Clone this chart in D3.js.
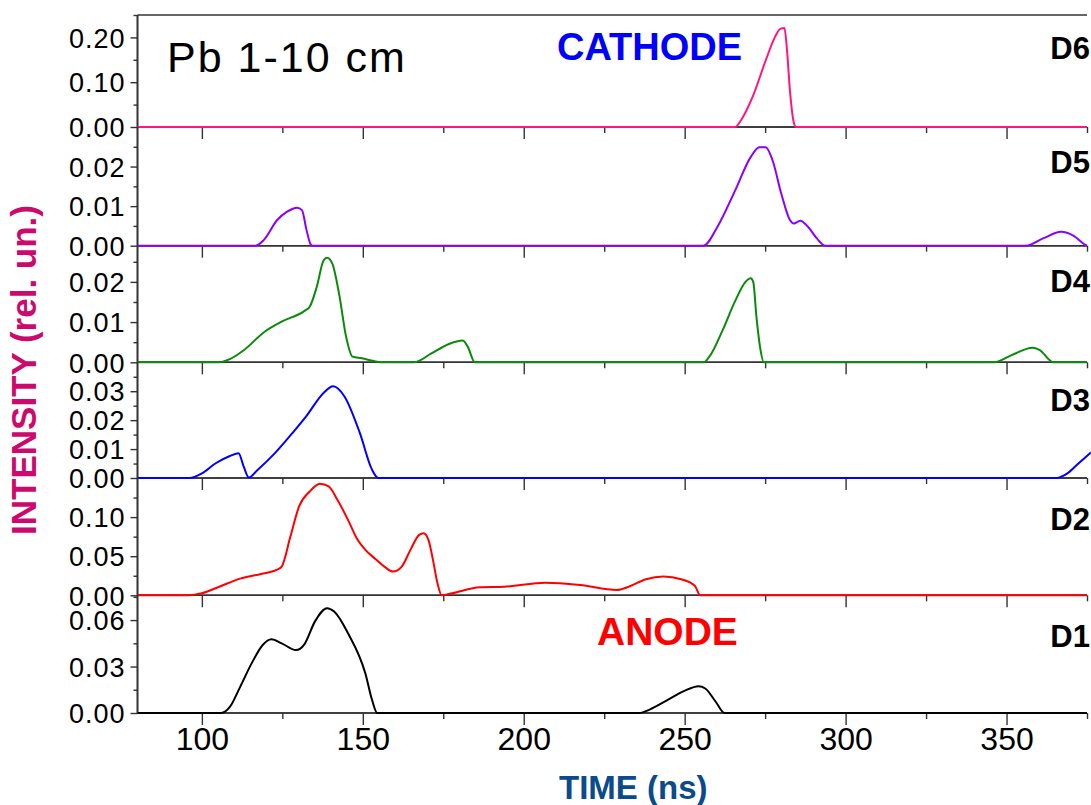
<!DOCTYPE html>
<html>
<head>
<meta charset="utf-8">
<script src="https://cdn.jsdelivr.net/npm/d3@7"></script>
<style>
  html, body { margin: 0; padding: 0; background: #fff; }
  svg { display: block; font-family: Arial, "Liberation Sans", sans-serif; }
</style>
</head>
<body>
<svg id="chart" width="1091" height="805"></svg>
<script>
// Detector names, top to bottom
const detectors = ["D6", "D5", "D4", "D3", "D2", "D1"];
const lineColors = ["#ff1480", "#8a00ff", "#0a8a0a", "#0000ff", "#ff0000", "#000000"];

// Time axis
const timeDomain = [80, 375];
const timeMajorTicks = [100, 150, 200, 250, 300, 350];
const timeMinorTicks = [125, 175, 225, 275, 325, 375];

// Intensity axis per detector
const intensityMax = [0.25, 0.03, 0.029, 0.04, 0.15, 0.076];
const intensityMajorTicks = [
  [0, 0.10, 0.20],
  [0, 0.01, 0.02],
  [0, 0.01, 0.02],
  [0, 0.01, 0.02, 0.03],
  [0, 0.05, 0.10],
  [0, 0.03, 0.06]
];
const intensityMinorTicks = [
  [0.05, 0.15, 0.25],
  [0.005, 0.015, 0.025],
  [0.005, 0.015, 0.025],
  [0.005, 0.015, 0.025, 0.035],
  [0.025, 0.075, 0.125],
  [0.015, 0.045, 0.075]
];

// Signals: [time (ns), intensity (rel. un.)]
const d6 = [[80,0],[265.7,0],[267.5,0.015],[271.1,0.067],[275.2,0.149],[278,0.2],[279.7,0.219],
  [281,0.221],[281.8,0.171],[282.7,0.082],[283.9,0.01],[284.6,0],[375,0]];
const d5 = [[80,0],[116.7,0],[119.2,0.0014],[123.4,0.0065],[126.5,0.0086],[129.6,0.0096],[131.1,0.009],
  [132.5,0.004],[133.7,0.0005],[134.2,0],[255.8,0],[260.2,0.0048],[265.7,0.014],[270.5,0.0224],
  [273.2,0.0249],[275.2,0.0249],[277.3,0.0216],[280,0.0132],[282.7,0.0065],[283.9,0.0056],
  [285.9,0.0063],[288.3,0.0048],[291,0.0019],[293.7,0],[356,0],[361.5,0.0019],[366.9,0.0035],
  [371,0.0024],[374.5,0.0002],[375,0]];
const d4 = [[80,0],[105.4,0],[108.7,0.0008],[113,0.003],[119.5,0.0076],[124.8,0.0101],[131.9,0.0128],
  [133.5,0.0138],[135.7,0.0188],[137.8,0.0253],[138.9,0.026],[140.5,0.0246],[142.7,0.0167],
  [144.8,0.0064],[146.8,0.0014],[149.7,0.001],[154,0.0002],[156,0],[165.9,0],[171.3,0.0022],
  [176.6,0.0045],[181,0.0054],[182.6,0.0039],[184.8,0],[255.9,0],[258,0.0018],[261.8,0.008],
  [265.6,0.0151],[268.9,0.02],[270.5,0.0209],[271.3,0.02],[272.3,0.0113],[273.4,0.0039],
  [274.6,0],[346.2,0],[351.6,0.0018],[358.1,0.0036],[360.2,0.0031],[364.6,0],[375,0]];
const d3s = [[80,0],[96.2,0],[100,0.0016],[104.3,0.0051],[108.7,0.0076],[111.4,0.0086],[113,0.0039],
  [114.6,0.0002],[117.3,0.0028],[122.7,0.0086],[128.1,0.0155],[132.4,0.0213],[137.8,0.0294],
  [140.8,0.0317],[144.3,0.0282],[149.1,0.0155],[152.9,0.0028],[154.8,0],[365.6,0],[368.9,0.0016],
  [372.5,0.0052],[376.2,0.0088]];
const d2 = [[80,0],[95.7,0],[100,0.0026],[105.4,0.011],[111.9,0.0213],[118.4,0.0273],[123.2,0.0324],
  [124.8,0.0367],[127.5,0.0751],[130.2,0.1136],[133.5,0.1328],[136.7,0.1427],[139.4,0.1392],
  [142.1,0.1222],[145.4,0.0965],[148.1,0.0731],[150.8,0.0581],[154,0.0462],[156.7,0.0367],
  [159.4,0.0303],[162.1,0.0367],[164.8,0.0581],[167.5,0.0773],[168.9,0.0795],[170.4,0.0709],
  [171.8,0.0453],[173.2,0.0154],[174.5,0],[177.8,0.0026],[186.4,0.0103],[193.9,0.011],
  [206.7,0.0162],[217.5,0.0132],[228.9,0.0068],[232.6,0.011],[238,0.0205],[243.4,0.0239],
  [248.9,0.0205],[253.2,0.0119],[254.8,0],[375,0]];
const d1 = [[80,0],[106,0],[108.7,0.0039],[111.9,0.0169],[115.7,0.033],[118.9,0.0439],[121.6,0.0476],
  [124.8,0.045],[129.2,0.0406],[131.9,0.0445],[135.1,0.059],[138.9,0.0677],[141.1,0.0655],
  [145.4,0.0515],[150.8,0.0255],[152.9,0.0082],[154.5,0],[235.9,0],[239.1,0.0022],[244.5,0.0082],
  [249.9,0.0143],[254.3,0.0173],[256.4,0.0158],[259.7,0.0071],[262.4,0],[375,0]];
const signals = [d6, d5, d4, d3s, d2, d1];

// Layout: stacked panels sharing one time axis
const plotLeft = 137.5, plotRight = 1087;
const panelEdges = [15, 127, 245.7, 362.3, 478, 595.3, 713];
const labelBaselines = [59, 173, 292, 410.7, 530, 647];
const axisColor = "#333";
const font = 'Arial, "Liberation Sans", sans-serif';

const svg = d3.select("#chart");
const x = d3.scaleLinear().domain(timeDomain).range([plotLeft, plotRight]);

// Top frame line and continuous left axis line
svg.append("line").attr("x1", plotLeft).attr("x2", plotRight)
  .attr("y1", panelEdges[0]).attr("y2", panelEdges[0])
  .attr("stroke", axisColor).attr("stroke-width", 1.6);

detectors.forEach((name, i) => {
  const top = panelEdges[i], bottom = panelEdges[i + 1];
  const y = d3.scaleLinear().domain([0, intensityMax[i]]).range([bottom, top]);
  const g = svg.append("g");

  // bottom time axis with outward ticks
  const isLast = i === detectors.length - 1;
  const xMajor = d3.axisBottom(x).tickValues(timeMajorTicks).tickSize(12)
    .tickFormat(isLast ? d3.format("d") : () => "");
  const xMinor = d3.axisBottom(x).tickValues(timeMinorTicks).tickSize(6).tickFormat(() => "");
  const gxMinor = g.append("g").attr("transform", `translate(0,${bottom})`).call(xMinor);
  const gx = g.append("g").attr("transform", `translate(0,${bottom})`).call(xMajor);
  [gx, gxMinor].forEach(a => {
    a.select(".domain").attr("stroke", axisColor).attr("stroke-width", 1.6)
      .attr("d", `M${plotLeft},0H${plotRight}`);
    a.selectAll(".tick line").attr("stroke", axisColor).attr("stroke-width", 1.4);
  });
  gx.selectAll(".tick text").attr("font-family", font).attr("font-size", 32)
    .attr("fill", "#000").attr("y", 14).attr("dy", "0.71em");

  // left intensity axis with outward ticks
  const yMajor = d3.axisLeft(y).tickValues(intensityMajorTicks[i]).tickSize(7)
    .tickPadding(5).tickFormat(d3.format(".2f"));
  const yMinor = d3.axisLeft(y).tickValues(intensityMinorTicks[i]).tickSize(4).tickFormat(() => "");
  const gyMinor = g.append("g").attr("transform", `translate(${plotLeft},0)`).call(yMinor);
  const gy = g.append("g").attr("transform", `translate(${plotLeft},0)`).call(yMajor);
  [gy, gyMinor].forEach(a => {
    a.select(".domain").attr("stroke", axisColor).attr("stroke-width", 1.6)
      .attr("d", `M0,${top}V${bottom}`);
    a.selectAll(".tick line").attr("stroke", axisColor).attr("stroke-width", 1.4);
  });
  gy.selectAll(".tick text").attr("font-family", font).attr("font-size", 27)
    .attr("letter-spacing", "1px").attr("fill", "#000").attr("dy", "0.36em");

  // signal trace
  const line = d3.line().x(d => x(d[0])).y(d => y(d[1])).curve(d3.curveMonotoneX);
  g.append("path").datum(signals[i]).attr("d", line)
    .attr("fill", "none").attr("stroke", lineColors[i]).attr("stroke-width", 2)
    .attr("stroke-linejoin", "round");

  // detector label
  g.append("text").attr("x", 1090).attr("y", labelBaselines[i]).attr("text-anchor", "end")
    .attr("font-family", font).attr("font-weight", "bold").attr("font-size", 31)
    .attr("fill", "#000").text(name);
});

// Annotations
svg.append("text").attr("x", 167).attr("y", 72).attr("font-family", font)
  .attr("font-size", 43).attr("letter-spacing", "2px").attr("fill", "#000").text("Pb 1-10 cm");
svg.append("text").attr("x", 557).attr("y", 60).attr("font-family", font)
  .attr("font-weight", "bold").attr("font-size", 38).attr("fill", "#0000ff").text("CATHODE");
svg.append("text").attr("x", 597).attr("y", 645).attr("font-family", font)
  .attr("font-weight", "bold").attr("font-size", 39).attr("fill", "#ff0000").text("ANODE");

// Axis titles
svg.append("text").attr("x", 559).attr("y", 799).attr("font-family", font)
  .attr("font-weight", "bold").attr("font-size", 33).attr("fill", "#0b4a8c").text("TIME (ns)");
svg.append("text").attr("transform", "translate(36,370) rotate(-90)").attr("text-anchor", "middle")
  .attr("font-family", font).attr("font-weight", "bold").attr("font-size", 35)
  .attr("fill", "#cc0a6e").text("INTENSITY (rel. un.)");
</script>
</body>
</html>
